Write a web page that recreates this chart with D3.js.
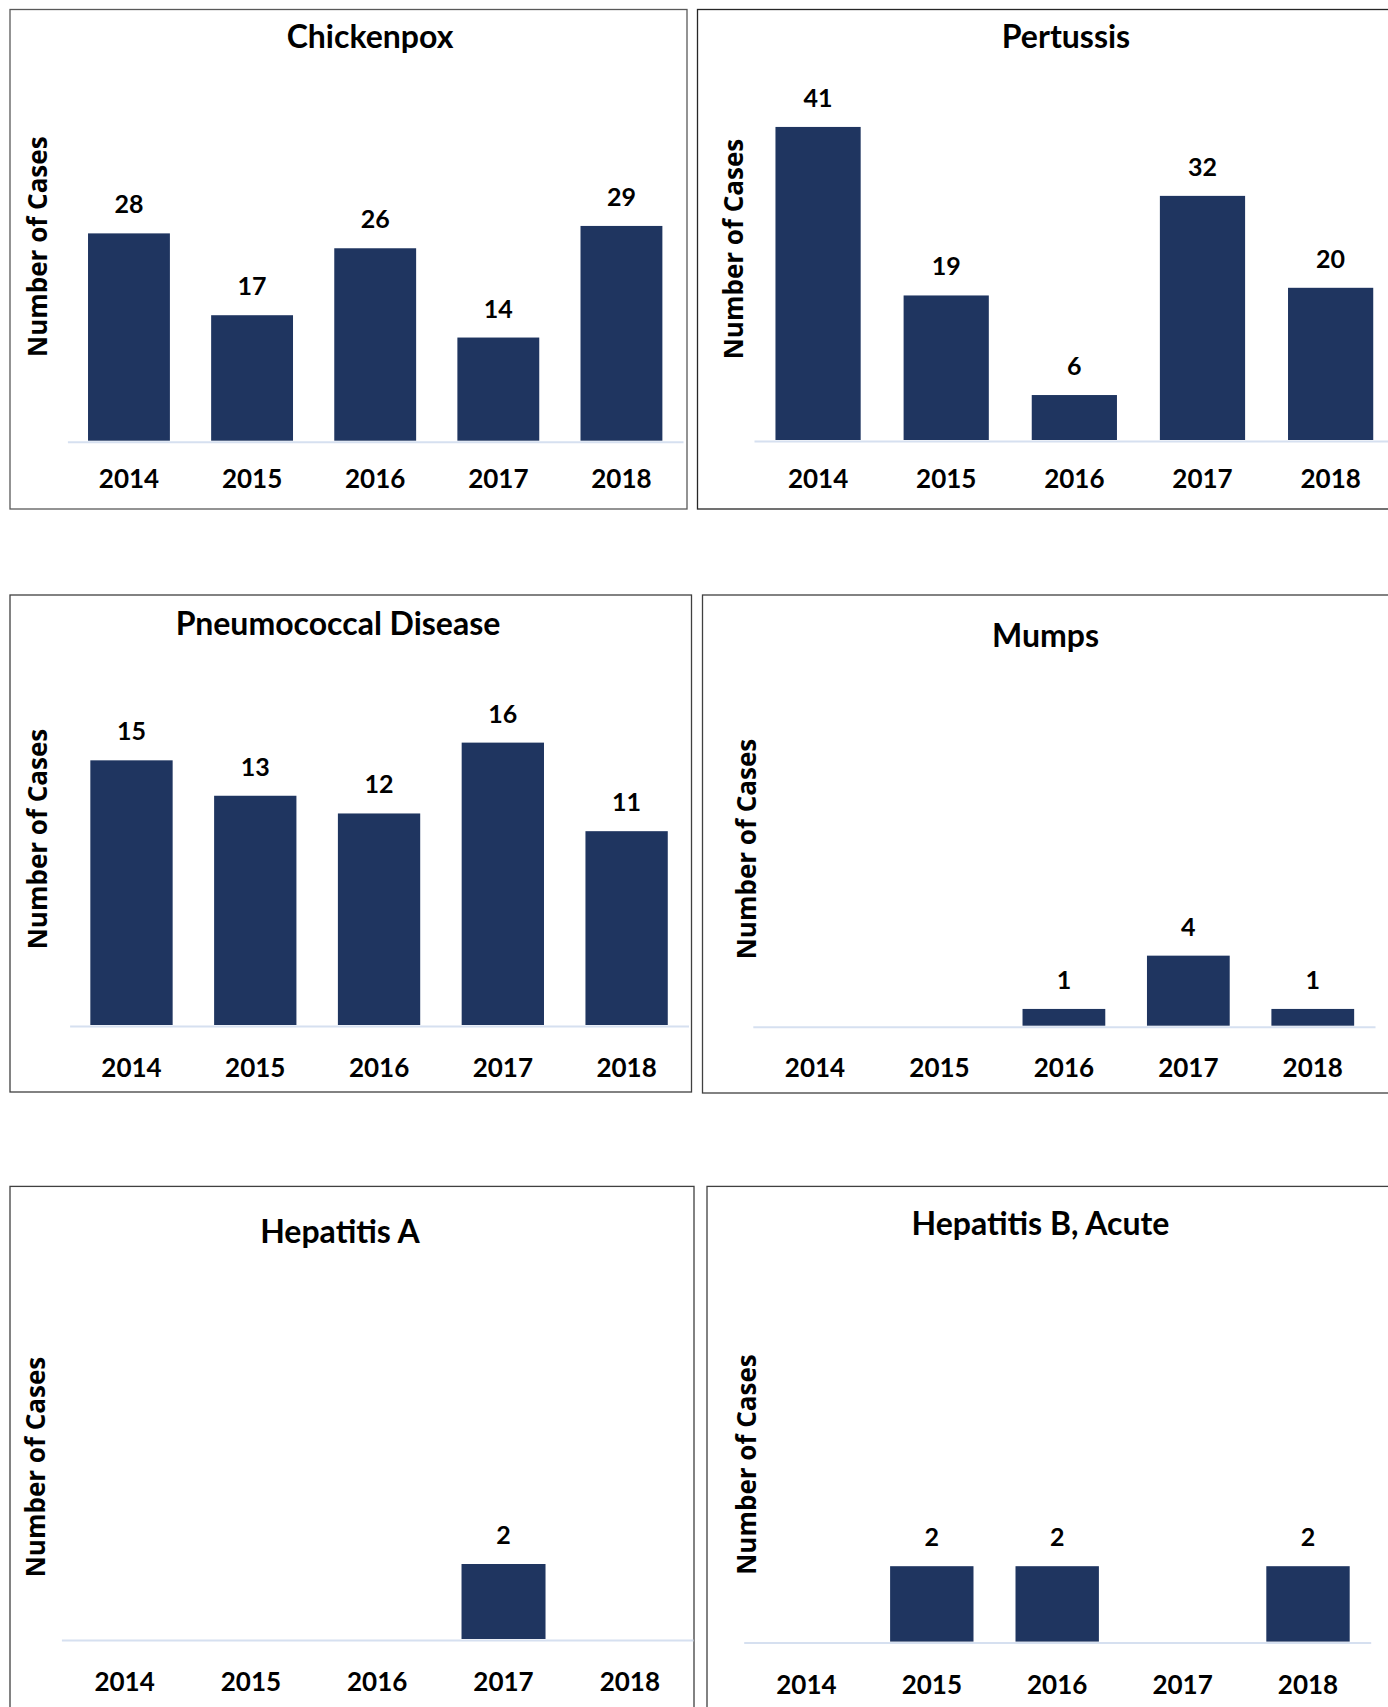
<!DOCTYPE html>
<html>
<head>
<meta charset="utf-8">
<script src="https://cdn.jsdelivr.net/npm/d3@7"></script>
<style>
  html, body { margin: 0; padding: 0; background: #ffffff; }
  svg { display: block; }
</style>
</head>
<body>
<svg id="chart" width="1388" height="1707"></svg>
<script>
// Reported cases by year for six vaccine-preventable diseases
const years = ["2014", "2015", "2016", "2017", "2018"];

const chickenpoxCases   = [28, 17, 26, 14, 29];
const pertussisCases    = [41, 19, 6, 32, 20];
const pneumococcalCases = [15, 13, 12, 16, 11];
const mumpsCases        = [0, 0, 1, 4, 1];
const hepatitisACases   = [0, 0, 0, 2, 0];
const hepatitisBCases   = [0, 2, 2, 0, 2];

const panelTitles = ["Chickenpox", "Pertussis", "Pneumococcal Disease", "Mumps", "Hepatitis A", "Hepatitis B, Acute"];
const panelValues = [chickenpoxCases, pertussisCases, pneumococcalCases, mumpsCases, hepatitisACases, hepatitisBCases];
// Value-axis maximum for each panel (axis itself is hidden)
const axisMax = [35, 45, 18, 18, 2.5, 2.5];

const yAxisTitle = "Number of Cases";

// Frame, plot area and text placement for each panel
const layout = [
  { box: [10, 9.5, 687, 509],     x: [67.4, 683],    base: 441.7,  top: 181.3,  title: [370, 48.3],     ylab: [46.9, 246.7], pad: 28.1, border: "#595959" },
  { box: [697.5, 9.5, 1392, 509], x: [754, 1394.7],  base: 441,    top: 96.3,   title: [1066, 48.3],    ylab: [742.7, 249],  pad: 28.8, border: "#262626" },
  { box: [10, 595, 691.5, 1092],  x: [69.6, 688.5],  base: 1026,   top: 707.2,  title: [338, 635],      ylab: [46.9, 839],   pad: 32.2, border: "#404040" },
  { box: [702.5, 595, 1392, 1093],x: [752.8, 1375],  base: 1026.7, top: 707,    title: [1045.6, 646.7], ylab: [756, 849],    pad: 32,   border: "#404040" },
  { box: [10, 1186.4, 694, 1720], x: [61.4, 693],    base: 1640,   top: 1545,   title: [340, 1243],     ylab: [44.6, 1467],  pad: 32.5, border: "#404040" },
  { box: [707, 1186.4, 1392, 1720], x: [743.7, 1370.7], base: 1642.6, top: 1547.1, title: [1040.4, 1235], ylab: [756, 1464.5], pad: 32.9, border: "#404040" }
];

const barColor = "#1f3560";
const baseColor = "#d6e0f0";
const labelFont = "Lato, 'Open Sans', sans-serif";

const svg = d3.select("#chart");

panelTitles.forEach((title, i) => {
  const L = layout[i];
  const values = panelValues[i];
  const g = svg.append("g").attr("class", "panel");

  // panel frame
  g.append("rect")
    .attr("x", L.box[0]).attr("y", L.box[1])
    .attr("width", L.box[2] - L.box[0]).attr("height", L.box[3] - L.box[1])
    .attr("fill", "none").attr("stroke", L.border).attr("stroke-width", 1.3);

  const x = d3.scaleBand()
    .domain(years)
    .range(L.x)
    .paddingInner(0.335)
    .paddingOuter(0.1675);

  const y = d3.scaleLinear()
    .domain([0, axisMax[i]])
    .range([L.base, L.top]);

  // category axis along the baseline
  const axis = g.append("g")
    .attr("transform", `translate(0,${L.base})`)
    .call(d3.axisBottom(x).tickSize(0).tickPadding(L.pad));
  axis.select(".domain").attr("stroke", baseColor).attr("stroke-width", 2);
  axis.selectAll(".tick text")
    .attr("fill", "#000")
    .style("font-family", labelFont)
    .style("font-weight", "700")
    .style("font-size", "26px");

  const data = years.map((yr, k) => ({ year: yr, value: values[k] }));

  // bars
  g.selectAll("rect.bar")
    .data(data.filter(d => d.value > 0))
    .join("rect")
    .attr("class", "bar")
    .attr("x", d => x(d.year))
    .attr("width", x.bandwidth())
    .attr("y", d => y(d.value))
    .attr("height", d => y(0) - y(d.value) - 1)
    .attr("fill", barColor);

  // value labels
  g.selectAll("text.value")
    .data(data.filter(d => d.value > 0))
    .join("text")
    .attr("class", "value")
    .attr("x", d => x(d.year) + x.bandwidth() / 2)
    .attr("y", d => y(d.value) - 20)
    .attr("text-anchor", "middle")
    .style("font-family", labelFont)
    .style("font-weight", "700")
    .style("font-size", "25px")
    .attr("fill", "#000")
    .text(d => d.value);

  // panel title
  g.append("text")
    .attr("x", L.title[0]).attr("y", L.title[1])
    .attr("text-anchor", "middle")
    .style("font-family", labelFont)
    .style("font-weight", "700")
    .style("font-size", "32px")
    .attr("fill", "#000")
    .text(title);

  // vertical axis title
  g.append("text")
    .attr("transform", `translate(${L.ylab[0]},${L.ylab[1]}) rotate(-90)`)
    .attr("text-anchor", "middle")
    .style("font-family", "'Open Sans', sans-serif")
    .style("font-weight", "700")
    .style("font-size", "26px")
    .attr("fill", "#000")
    .text(yAxisTitle);
});
</script>
</body>
</html>
